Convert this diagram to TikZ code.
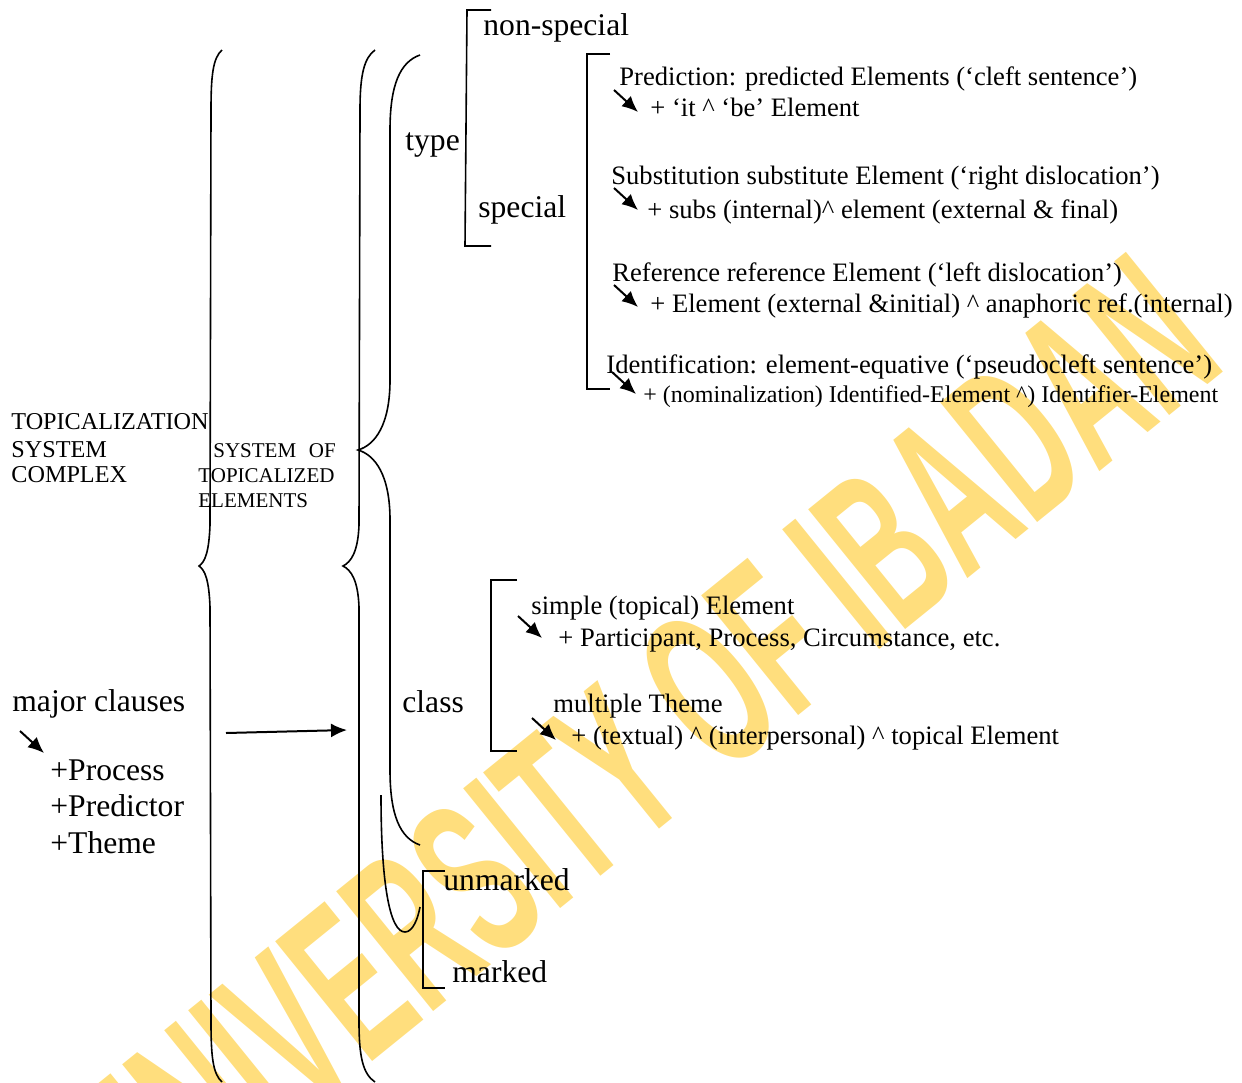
\documentclass[tikz,border=0pt]{standalone}
\usepackage{fontspec}
\setmainfont{Liberation Serif}
\newfontfamily\wmfont{Liberation Sans}
\usetikzlibrary{arrows.meta}
\definecolor{wmyellow}{RGB}{255,222,125}
\tikzset{
  lbl/.style={inner sep=0pt, anchor=base west},
  big/.style={lbl, font=\fontsize{15.8}{19}\selectfont},
  small/.style={lbl, font=\fontsize{13.3}{16}\selectfont},
  smaller/.style={lbl, font=\fontsize{12}{14}\selectfont},
  caps/.style={lbl, font=\fontsize{12.1}{14}\selectfont},
  capsb/.style={lbl, font=\fontsize{10.5}{12}\selectfont},
  brk/.style={line width=0.8pt},
  tip/.style={->, line width=1pt}
}

\begin{document}
\begin{tikzpicture}[x=0.5pt, y=-0.5pt, >={Latex[length=8pt,width=7pt]}]
    \useasboundingbox (0,0) rectangle (1242,1082);
    % the watermark goes first, the diagram sits on it
    \node[rotate=39, text=wmyellow, inner sep=0pt] (wm) at (640,745)
        {\scalebox{0.525}[1]{\fontsize{112}{112}\wmfont\bfseries UNIVERSITY OF IBADAN}};

    % left column
    \node[caps] (tsc1) at (11,429) {TOPICALIZATION};
    \node[caps] (tsc2) at (11,457) {SYSTEM};
    \node[caps] (tsc3) at (11,482) {COMPLEX};
    \node[capsb] (ste1) at (213,457) {SYSTEM\hspace{0.6em}OF};
    \node[capsb] (ste2) at (198,482) {TOPICALIZED};
    \node[capsb] (ste3) at (198,507) {ELEMENTS};
    \node[big] (major) at (12,711) {major clauses};
    \node[big] (proc) at (50,780) {+Process};
    \node[big] (predr) at (50,816) {+Predictor};
    \node[big] (theme) at (50,853) {+Theme};

    % systems
    \node[big] (type) at (405,150) {type};
    \node[big] (nonspec) at (483,35) {non-special};
    \node[big] (spec) at (478,217) {special};
    \node[big] (class) at (402,712) {class};
    \node[big] (unmk) at (443,890) {unmarked};
    \node[big] (mk) at (452,982) {marked};

    % features and realisations
    \node[small] (prd1) at (619,85) {Prediction: predicted Elements (‘cleft sentence’)};
    \node[small] (prd2) at (650,116) {+ ‘it \textasciicircum{} ‘be’ Element};
    \node[small] (sub1) at (611,184) {Substitution substitute Element (‘right dislocation’)};
    \node[small] (sub2) at (647,218) {+ subs (internal)\textasciicircum{} element (external \& final)};
    \node[small] (ref1) at (612,281) {Reference reference Element (‘left dislocation’)};
    \node[small] (ref2) at (650,312) {+ Element (external \&initial) \textasciicircum{} anaphoric ref.(internal)};
    \node[small] (idf1) at (606,373) {Identification: element-equative (‘pseudocleft sentence’)};
    \node[smaller] (idf2) at (643,402) {+ (nominalization) Identified-Element \textasciicircum) Identifier-Element};
    \node[small] (smp1) at (531,614) {simple (topical) Element};
    \node[small] (smp2) at (558,646) {+ Participant, Process, Circumstance, etc.};
    \node[small] (mul1) at (553,712) {multiple Theme};
    \node[small] (mul2) at (571,744) {+ (textual) \textasciicircum{} (interpersonal) \textasciicircum{} topical Element};

    % square brackets
    \draw[brk] (491,10) -- (467,10) -- (465,246) -- (491,246);
    \draw[brk] (610,54) -- (587,54) -- (587,389) -- (610,389);
    \draw[brk] (517,580) -- (491,580) -- (491,751) -- (517,751);
    \draw[brk] (445,871) -- (423,871) -- (423,988) -- (445,988);

    % curly braces
    \draw[brk] (222,50) .. controls (213,58) and (211,75) .. (211,110) -- (210,525)
        .. controls (209,552) and (205,562) .. (199,566)
        .. controls (205,570) and (209,580) .. (210,607) -- (211,1022)
        .. controls (211,1057) and (213,1074) .. (222,1082);
    \draw[brk] (375,50) .. controls (364,58) and (360,75) .. (360,110) -- (359,525)
        .. controls (358,552) and (351,562) .. (343,566)
        .. controls (351,570) and (358,580) .. (359,607) -- (359,1022)
        .. controls (359,1057) and (363,1074) .. (375,1082);
    \draw[brk] (420,55) .. controls (400,62) and (390,85) .. (390,130) -- (390,380)
        .. controls (390,425) and (375,445) .. (358,450)
        .. controls (375,455) and (390,475) .. (390,520) -- (390,770)
        .. controls (390,815) and (400,838) .. (420,845);
    \draw[brk] (381,795) .. controls (381,885) and (390,932) .. (405,932)
        .. controls (413,932) and (418,918) .. (420,907);

    % arrows
    \coordinate (mstart) at (226,733);
    \coordinate (mend) at (347,730);
    \draw[tip] (mstart) -- (mend);
    \foreach \n/\dx/\dy in {major/8/20, prd1/-5/5, sub1/3/4, ref1/2/4,
                            idf1/6/-1, smp1/-13/2, mul1/-21/6}
        \draw[tip] ([shift={(\dx,\dy)}]\n.base west) -- ++(24,22);
\end{tikzpicture}
\end{document}
